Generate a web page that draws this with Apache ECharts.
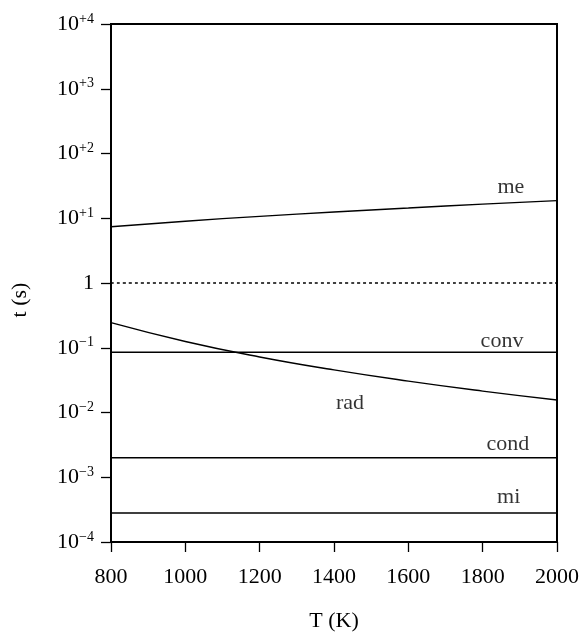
<!DOCTYPE html>
<html><head><meta charset="utf-8">
<script src="https://cdn.jsdelivr.net/npm/echarts@6/dist/echarts.min.js"></script>
<style>html,body{margin:0;padding:0;background:#fff}#c{width:585px;height:640px}</style>
</head><body><div id="c"></div>
<script>
var temps = [800, 1000, 1200, 1400, 1600, 1800, 2000];
var meVals = [7.4, 9.0, 10.7, 12.5, 14.4, 16.5, 18.7];
var radVals = [0.244, 0.125, 0.072, 0.0455, 0.0305, 0.0214, 0.0156];
var convVals = [0.085, 0.085, 0.085, 0.085, 0.085, 0.085, 0.085];
var condVals = [0.002, 0.002, 0.002, 0.002, 0.002, 0.002, 0.002];
var miVals = [0.00028, 0.00028, 0.00028, 0.00028, 0.00028, 0.00028, 0.00028];
var unityVals = [1, 1, 1, 1, 1, 1, 1];
var curveLabels = [
  {text: 'me', at: [1876, 30]},
  {text: 'conv', at: [1852, 0.127]},
  {text: 'rad', at: [1443, 0.0138]},
  {text: 'cond', at: [1868, 0.00326]},
  {text: 'mi', at: [1870, 0.000495]}
];
var FONT = '"Liberation Serif","DejaVu Serif",serif';
function pairs(v){ return temps.map(function(t,i){return [t, v[i]];}); }
function line(name, vals, type){
  return {name:name, type:'line', data:pairs(vals), symbol:'none', smooth:true,
    lineStyle:{color:'#000', width:1.4, type:type||'solid'}, silent:true};
}
var chart = echarts.init(document.getElementById('c'));
var series = [
  line('me', meVals), line('unity', unityVals, [3,3]), line('conv', convVals),
  line('rad', radVals), line('cond', condVals), line('mi', miVals)
];
series.push({type:'scatter', symbolSize:0, silent:true,
  data: curveLabels.map(function(l){return {value:l.at, name:l.text};}),
  label:{show:true, position:'inside', formatter:function(p){return p.name;},
    color:'#000', fontFamily:FONT, fontSize:22}});
chart.setOption({
  animation:false,
  grid:{left:111, right:28, top:24, bottom:98, show:true, borderColor:'#000', borderWidth:2},
  xAxis:{type:'value', min:800, max:2000, interval:200,
    name:'T (K)', nameLocation:'middle', nameGap:68,
    nameTextStyle:{color:'#000', fontFamily:FONT, fontSize:22},
    axisLine:{lineStyle:{color:'#000', width:2}},
    axisTick:{show:true, inside:false, length:10, lineStyle:{color:'#000', width:1.3}},
    axisLabel:{color:'#000', fontFamily:FONT, fontSize:22, margin:24,
      formatter:function(v){ return String(v); }},
    splitLine:{show:false}},
  yAxis:{type:'log', logBase:10, min:1e-4, max:1e4,
    name:'t (s)', nameLocation:'middle', nameGap:80, nameRotate:90,
    nameTextStyle:{color:'#000', fontFamily:FONT, fontSize:22, padding:[0,34,0,0]},
    axisLine:{lineStyle:{color:'#000', width:2}},
    axisTick:{show:true, inside:false, length:10, lineStyle:{color:'#000', width:1.3}},
    axisLabel:{color:'#000', fontFamily:FONT, fontSize:22, margin:17,
      formatter:function(v){
        var e = Math.round(Math.log10(v));
        if (e === 0) return '1';
        return '10{s|' + (e > 0 ? '+' + e : '\u2212' + (-e)) + '}';
      },
      rich:{s:{fontSize:14, verticalAlign:'top', fontFamily:FONT, color:'#000', padding:[0,0,10,0]}}},
    splitLine:{show:false}},
  series:series
});
</script></body></html>
